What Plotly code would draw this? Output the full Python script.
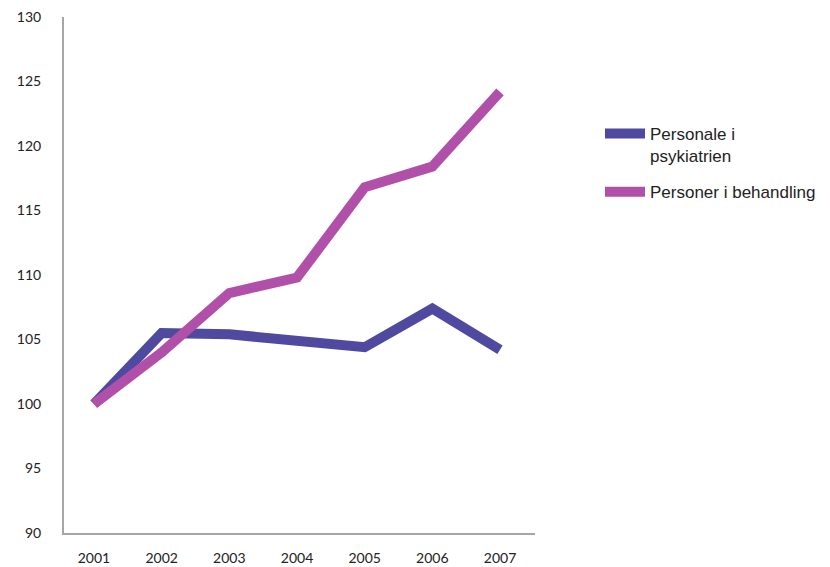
import plotly.graph_objects as go

years = ["2001", "2002", "2003", "2004", "2005", "2006", "2007"]
personale = [100.0, 105.5, 105.4, 104.9, 104.4, 107.4, 104.2]
personer = [100.0, 104.0, 108.6, 109.8, 116.8, 118.4, 124.2]
y_ticks = [90, 95, 100, 105, 110, 115, 120, 125, 130]

fig = go.Figure()
fig.add_trace(go.Scatter(
    x=years, y=personale, mode="lines", name="Personale i<br>psykiatrien",
    legendgroup="a",
    line=dict(color="#4F4A9F", width=10),
))
fig.add_trace(go.Scatter(
    x=years, y=personer, mode="lines", name="Personer i behandling",
    legendgroup="b",
    line=dict(color="#B050A8", width=10),
))

tick_font = dict(family="Lato, Open Sans, sans-serif", size=14, color="#222222")

fig.update_layout(
    width=830, height=567,
    margin=dict(l=56, r=303, t=9, b=42),
    paper_bgcolor="white", plot_bgcolor="white",
    showlegend=True,
    legend=dict(
        x=1.138, y=0.808, xanchor="left", yanchor="top",
        font=dict(family="Liberation Sans, Arial, sans-serif", size=17, color="#222222"),
        tracegroupgap=11, itemwidth=40, valign="top",
        bgcolor="rgba(0,0,0,0)",
    ),
    xaxis=dict(
        type="category", range=[-0.443, 6.517], showgrid=False, zeroline=False,
        showline=True, linecolor="#A6A6A6", linewidth=2, ticks="",
        tickfont=tick_font, ticklabelstandoff=11, automargin=False,
        ticklabeloverflow="allow",
    ),
    yaxis=dict(
        range=[90, 130], tickvals=y_ticks, showgrid=False, zeroline=False,
        showline=True, linecolor="#A6A6A6", linewidth=2, ticks="",
        tickfont=tick_font, ticklabelstandoff=18, automargin=False,
        ticklabeloverflow="allow",
    ),
)

fig.write_html("out.html")
